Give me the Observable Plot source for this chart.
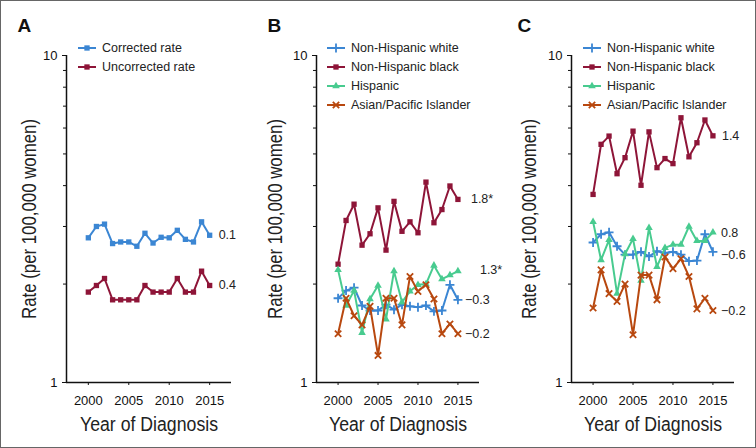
<!DOCTYPE html>
<html><head><meta charset="utf-8">
<script src="https://cdn.jsdelivr.net/npm/d3@7"></script>
<script src="https://cdn.jsdelivr.net/npm/@observablehq/plot@0.6"></script>
<style>
body{margin:0;background:#fff;}
#fig{position:relative;width:756px;height:448px;overflow:hidden;font-family:Arial,"Liberation Sans",sans-serif;background:#fff;}
.panel{position:absolute;top:0;}
.leg{position:absolute;font-size:12.5px;color:#222;display:flex;align-items:center;height:16px;white-space:nowrap;}
.leg svg{margin-right:6px;overflow:visible}
#border{position:absolute;left:0;top:0;width:754px;height:446px;border:1px solid #666;pointer-events:none;}
</style></head><body><div id="fig"><div id="border"></div></div>
<script>
// ---- data ----
const years = [2000,2001,2002,2003,2004,2005,2006,2007,2008,2009,2010,2011,2012,2013,2014,2015];
const xTicks = [2000,2005,2010,2015];
const yTicks = [1,10];
const yMinor = [2,3,4,5,6,7,8,9];

const seriesA = ["Corrected rate","Uncorrected rate"];
const correctedA   = [2.77,3.00,3.05,2.66,2.69,2.69,2.61,2.86,2.67,2.78,2.77,2.92,2.74,2.69,3.10,2.82];
const uncorrectedA = [1.89,1.98,2.08,1.79,1.79,1.79,1.79,1.98,1.89,1.89,1.89,2.08,1.89,1.89,2.19,1.98];
const trendA = ["0.1","0.4"];

const groups = ["Non-Hispanic white","Non-Hispanic black","Hispanic","Asian/Pacific Islander"];
const whiteB = [1.81,1.91,1.95,1.72,1.66,1.66,1.73,1.67,1.73,1.71,1.70,1.72,1.65,1.66,1.99,1.79];
const blackB = [2.30,3.13,3.51,2.63,2.85,3.42,2.54,3.58,2.90,3.10,2.87,4.10,3.08,3.38,3.99,3.63];
const hispB  = [2.21,1.72,1.91,1.42,1.80,1.98,1.56,2.19,1.76,1.90,1.99,2.00,2.28,2.07,2.13,2.19];
const asianB = [1.41,1.81,1.60,1.50,1.71,1.21,1.81,1.81,1.50,2.11,1.90,1.99,1.80,1.41,1.51,1.41];
const trendB = ["\u22120.3","1.8*","1.3*","\u22120.2"];

const whiteC = [2.68,2.84,2.88,2.61,2.46,2.46,2.51,2.43,2.52,2.49,2.51,2.46,2.35,2.36,2.84,2.51];
const blackC = [3.76,5.35,5.67,4.35,4.87,5.87,4.01,5.84,4.54,4.84,4.67,6.45,4.90,5.41,6.35,5.68];
const hispC  = [3.10,2.37,2.73,1.87,2.47,2.75,2.05,2.97,2.26,2.58,2.64,2.64,3.00,2.71,2.71,2.88];
const asianC = [1.69,2.21,1.87,1.77,2.00,1.40,2.13,2.13,1.79,2.42,2.23,2.39,2.11,1.68,1.81,1.66];
const trendC = ["\u22120.6","1.4","0.8","\u22120.2"];

const yLabel = "Rate (per 100,000 women)";
const xLabel = "Year of Diagnosis";

// ---- style ----
const BLUE="#3b86d3", RED="#8e1538", GREEN="#48cb8f", ORANGE="#b8480f";
const FILL_SYMBOLS = new Set(["square","triangle","circle","diamond"]);

const panels = [
  {letter:"A", left:0, ml:66, mr:21, letterX:17, ylabX:29, legX:78,
   names:seriesA, values:[correctedA, uncorrectedA], trends:trendA,
   colors:[BLUE, RED], symbols:["square","square"], tdx:[9,9], tdy:[0,0]},
  {letter:"B", left:252, ml:64, mr:25, letterX:15, ylabX:23, legX:327,
   names:groups, values:[whiteB, blackB, hispB, asianB], trends:trendB,
   colors:[BLUE, RED, GREEN, ORANGE], symbols:["plus","square","triangle","times"], tdx:[7,13,22,7], tdy:[0,0,-1,0]},
  {letter:"C", left:504, ml:67, mr:22, letterX:13, ylabX:25, legX:583,
   names:groups, values:[whiteC, blackC, hispC, asianC], trends:trendC,
   colors:[BLUE, RED, GREEN, ORANGE], symbols:["plus","square","triangle","times"], tdx:[8,9,8,8], tdy:[3,0,1,0]}
];

const fig = document.getElementById("fig");
const X0 = 1997.3, X1 = 2017.7;

for (const p of panels) {
  const marks = [];
  marks.push(Plot.ruleY([1], {stroke:"#111", strokeWidth:1.5}));
  marks.push(Plot.ruleX([X0], {stroke:"#111", strokeWidth:1.5}));
  marks.push(Plot.axisX(xTicks, {tickSize:3, tickPadding:10, tickFormat:d=>String(d), label:null, fontSize:13, stroke:"#111", color:"#111"}));
  marks.push(Plot.axisY(yTicks, {tickSize:4, tickPadding:5, tickFormat:d=>String(d), label:null, fontSize:13, stroke:"#111", color:"#111"}));
  marks.push(Plot.axisY(yMinor, {tickSize:3, tickFormat:()=>"", label:null, stroke:"#111"}));
  p.values.forEach((vals, k) => {
    const rows = years.map((yr, i) => ({year: yr, value: vals[i]}));
    const sym = p.symbols[k];
    const col = p.colors[k];
    marks.push(Plot.line(rows, {x:"year", y:"value", stroke:col, strokeWidth:2}));
    if (FILL_SYMBOLS.has(sym)) {
      marks.push(Plot.dot(rows, {x:"year", y:"value", symbol:sym, r: sym==="triangle"?2.8:3, fill:col, stroke:"none"}));
    } else {
      marks.push(Plot.dot(rows, {x:"year", y:"value", symbol:sym, r:3, stroke:col, strokeWidth:1.8, fill:"none"}));
    }
    const last = rows[rows.length-1];
    marks.push(Plot.text([last], {x:"year", y:"value", text:()=>p.trends[k], dx:p.tdx[k], dy:p.tdy[k], textAnchor:"start", lineAnchor:"middle", fontSize:12.5, fill:"#222"}));
  });
  marks.push(Plot.text([p.letter], {text:d=>d, frameAnchor:"top-left", dx:p.letterX - p.ml, dy:-24, lineAnchor:"bottom", textAnchor:"start", fontSize:19, fontWeight:"bold", fill:"#111"}));
  marks.push(Plot.text([yLabel], {text:d=>d, frameAnchor:"left", dx:p.ylabX - p.ml, rotate:-90, textAnchor:"middle", lineAnchor:"middle", fontSize:20, fill:"#222"}));
  marks.push(Plot.text([xLabel], {text:d=>d, frameAnchor:"bottom", dy:42, textAnchor:"middle", lineAnchor:"middle", fontSize:20, fill:"#222"}));

  const chart = Plot.plot({
    width:252, height:448, marginLeft:p.ml, marginRight:p.mr, marginTop:55, marginBottom:66,
    x:{domain:[X0, X1]},
    y:{type:"log", domain:[1,10]},
    style:{fontFamily:"Arial,'Liberation Sans',sans-serif", fontSize:"13px", background:"transparent", overflow:"visible"},
    marks
  });
  // condense the axis titles (the original uses a narrow typeface)
  chart.querySelectorAll("text").forEach(t => {
    if (t.textContent === xLabel) { t.setAttribute("textLength", 138); t.setAttribute("lengthAdjust", "spacingAndGlyphs"); }
    if (t.textContent === yLabel) { t.setAttribute("textLength", 200); t.setAttribute("lengthAdjust", "spacingAndGlyphs"); }
  });
  chart.classList.add("panel");
  chart.style.left = p.left + "px";
  fig.insertBefore(chart, document.getElementById("border"));

  // legend
  p.names.forEach((name, k) => {
    const row = document.createElement("div");
    row.className = "leg";
    row.style.left = p.legX + "px";
    row.style.top = (47.7 + 19*k - 8) + "px";
    const sym = p.symbols[k], col = p.colors[k];
    const symMap = {square:d3.symbolSquare, triangle:d3.symbolTriangle, plus:d3.symbolPlus, times:d3.symbolTimes};
    const fillSym = FILL_SYMBOLS.has(sym);
    const r = fillSym ? (sym==="triangle"?2.8:3) : 3;
    const path = d3.symbol(symMap[sym], Math.PI*r*r)();
    row.innerHTML = `<svg width="18" height="16"><line x1="0" x2="18" y1="8" y2="8" stroke="${col}" stroke-width="2"/>`+
      `<path transform="translate(9,8)" d="${path}" ${fillSym?`fill="${col}"`:`fill="none" stroke="${col}" stroke-width="1.8"`}/></svg><span>${name}</span>`;
    fig.appendChild(row);
  });
}
</script></body></html>
